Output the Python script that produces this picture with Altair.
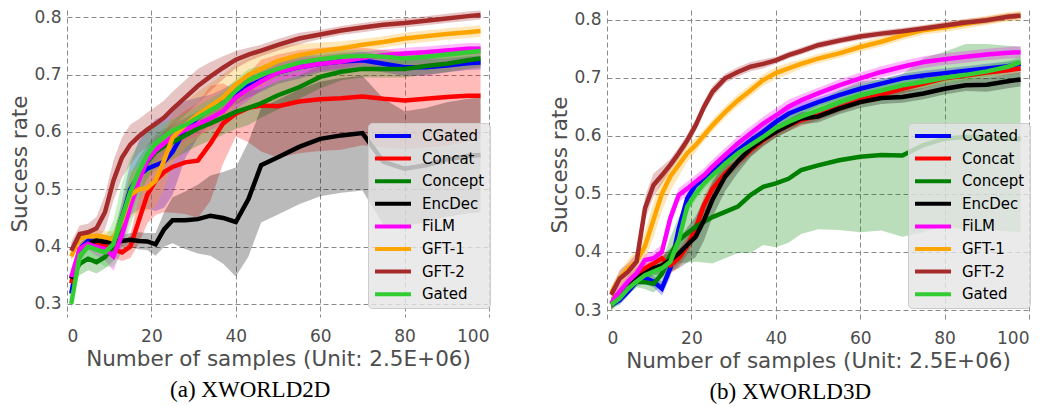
import altair as alt
import pandas as pd

# ---------------- data ----------------
names = ["CGated", "Concat", "Concept", "EncDec", "FiLM", "GFT-1", "GFT-2", "Gated"]
colors = ["#0000ff", "#ff0000", "#008000", "#000000", "#ff00ff", "#ffa500", "#a52a2a", "#32cd32"]

xs = [1, 3, 5, 7, 9, 11, 13, 15, 17, 19, 21, 23, 25, 28, 31, 34, 37, 40, 43, 46, 50, 55, 60, 65, 70, 75, 80, 85, 90, 95, 98]

# ---- (a) XWORLD2D: mean success rate ----
cgated_2d = [0.318, 0.396, 0.410, 0.408, 0.399, 0.402, 0.450, 0.500, 0.524, 0.536, 0.542, 0.548, 0.565, 0.604, 0.625, 0.640, 0.655, 0.668, 0.680, 0.690, 0.704, 0.713, 0.719, 0.723, 0.725, 0.719, 0.713, 0.713, 0.716, 0.720, 0.721]
concat_2d = [0.336, 0.395, 0.405, 0.408, 0.402, 0.396, 0.390, 0.400, 0.445, 0.490, 0.515, 0.530, 0.539, 0.547, 0.550, 0.580, 0.615, 0.632, 0.642, 0.646, 0.645, 0.653, 0.657, 0.659, 0.662, 0.658, 0.655, 0.658, 0.661, 0.663, 0.663]
concept_2d = [0.345, 0.370, 0.379, 0.373, 0.382, 0.400, 0.440, 0.495, 0.524, 0.547, 0.565, 0.575, 0.582, 0.594, 0.606, 0.615, 0.625, 0.635, 0.642, 0.650, 0.664, 0.678, 0.696, 0.705, 0.710, 0.710, 0.710, 0.715, 0.719, 0.725, 0.728]
encdec_2d = [0.344, 0.384, 0.405, 0.411, 0.408, 0.409, 0.410, 0.412, 0.410, 0.409, 0.404, 0.430, 0.446, 0.446, 0.448, 0.454, 0.450, 0.443, 0.483, 0.542, 0.556, 0.574, 0.588, 0.594, 0.598, 0.548, 0.536, 0.542, 0.552, 0.558, 0.560]
film_2d = [0.347, 0.396, 0.405, 0.399, 0.396, 0.383, 0.420, 0.470, 0.515, 0.550, 0.568, 0.580, 0.592, 0.604, 0.614, 0.624, 0.636, 0.660, 0.675, 0.688, 0.704, 0.713, 0.719, 0.723, 0.729, 0.734, 0.737, 0.739, 0.742, 0.745, 0.745]
gft1_2d = [0.383, 0.415, 0.418, 0.419, 0.417, 0.412, 0.445, 0.490, 0.500, 0.502, 0.515, 0.550, 0.590, 0.612, 0.630, 0.645, 0.660, 0.683, 0.700, 0.710, 0.724, 0.734, 0.741, 0.746, 0.752, 0.757, 0.763, 0.767, 0.771, 0.774, 0.776]
gft2_2d = [0.393, 0.422, 0.425, 0.432, 0.460, 0.515, 0.555, 0.578, 0.592, 0.604, 0.614, 0.625, 0.640, 0.660, 0.680, 0.697, 0.712, 0.726, 0.735, 0.742, 0.752, 0.763, 0.770, 0.777, 0.782, 0.787, 0.790, 0.794, 0.798, 0.802, 0.804]
gated_2d = [0.300, 0.384, 0.400, 0.395, 0.390, 0.405, 0.450, 0.495, 0.530, 0.560, 0.580, 0.592, 0.602, 0.612, 0.625, 0.638, 0.650, 0.672, 0.690, 0.700, 0.710, 0.721, 0.727, 0.731, 0.733, 0.731, 0.728, 0.731, 0.735, 0.739, 0.741]

# ---- (a) XWORLD2D: half-width of the shaded band ----
cgated_2d_sd = [0.01, 0.01, 0.01, 0.01, 0.01, 0.015, 0.03, 0.045, 0.06, 0.07, 0.08, 0.08, 0.075, 0.05, 0.035, 0.025, 0.02, 0.02, 0.02, 0.02, 0.02, 0.02, 0.015, 0.015, 0.015, 0.015, 0.015, 0.015, 0.012, 0.012, 0.012]
concat_2d_sd = [0.01, 0.01, 0.01, 0.01, 0.012, 0.015, 0.015, 0.02, 0.04, 0.05, 0.06, 0.07, 0.08, 0.09, 0.1, 0.1, 0.07, 0.04, 0.06, 0.08, 0.09, 0.09, 0.09, 0.09, 0.085, 0.085, 0.085, 0.085, 0.085, 0.08, 0.075]
concept_2d_sd = [0.015, 0.02, 0.02, 0.02, 0.02, 0.025, 0.03, 0.03, 0.03, 0.03, 0.03, 0.03, 0.03, 0.03, 0.03, 0.03, 0.03, 0.03, 0.03, 0.025, 0.025, 0.02, 0.02, 0.015, 0.015, 0.015, 0.015, 0.015, 0.015, 0.015, 0.015]
encdec_2d_sd = [0.01, 0.01, 0.01, 0.01, 0.01, 0.01, 0.01, 0.012, 0.015, 0.015, 0.02, 0.03, 0.04, 0.05, 0.06, 0.07, 0.08, 0.095, 0.1, 0.1, 0.1, 0.1, 0.1, 0.1, 0.1, 0.11, 0.1, 0.1, 0.1, 0.1, 0.1]
film_2d_sd = [0.01, 0.01, 0.01, 0.015, 0.02, 0.025, 0.025, 0.02, 0.02, 0.02, 0.02, 0.02, 0.02, 0.02, 0.02, 0.02, 0.02, 0.02, 0.02, 0.015, 0.015, 0.015, 0.012, 0.012, 0.01, 0.01, 0.01, 0.01, 0.01, 0.01, 0.01]
gft1_2d_sd = [0.01, 0.01, 0.01, 0.01, 0.01, 0.015, 0.03, 0.04, 0.04, 0.04, 0.045, 0.05, 0.045, 0.04, 0.04, 0.04, 0.04, 0.035, 0.03, 0.03, 0.025, 0.02, 0.015, 0.012, 0.01, 0.01, 0.01, 0.01, 0.01, 0.01, 0.01]
gft2_2d_sd = [0.015, 0.015, 0.015, 0.02, 0.03, 0.035, 0.035, 0.035, 0.03, 0.03, 0.03, 0.03, 0.03, 0.03, 0.03, 0.025, 0.02, 0.015, 0.012, 0.01, 0.01, 0.01, 0.008, 0.008, 0.008, 0.008, 0.008, 0.008, 0.008, 0.008, 0.008]
gated_2d_sd = [0.01, 0.02, 0.02, 0.02, 0.025, 0.04, 0.06, 0.06, 0.05, 0.04, 0.03, 0.025, 0.02, 0.02, 0.02, 0.02, 0.02, 0.02, 0.02, 0.015, 0.015, 0.015, 0.012, 0.012, 0.01, 0.01, 0.01, 0.01, 0.01, 0.01, 0.01]

# ---- (b) XWORLD3D: mean success rate ----
cgated_3d = [0.309, 0.317, 0.332, 0.349, 0.355, 0.349, 0.337, 0.372, 0.440, 0.492, 0.515, 0.527, 0.541, 0.558, 0.575, 0.592, 0.607, 0.624, 0.638, 0.647, 0.658, 0.670, 0.681, 0.690, 0.699, 0.704, 0.708, 0.712, 0.716, 0.720, 0.724]
concat_3d = [0.311, 0.326, 0.343, 0.355, 0.372, 0.380, 0.389, 0.377, 0.389, 0.410, 0.440, 0.481, 0.509, 0.535, 0.555, 0.575, 0.592, 0.607, 0.618, 0.627, 0.635, 0.648, 0.661, 0.671, 0.681, 0.690, 0.699, 0.704, 0.709, 0.713, 0.716]
concept_3d = [0.309, 0.323, 0.337, 0.349, 0.348, 0.345, 0.362, 0.395, 0.420, 0.432, 0.443, 0.452, 0.460, 0.469, 0.478, 0.498, 0.512, 0.518, 0.526, 0.541, 0.549, 0.558, 0.564, 0.567, 0.566, 0.584, 0.595, 0.598, 0.598, 0.595, 0.594]
encdec_3d = [0.311, 0.326, 0.343, 0.355, 0.363, 0.372, 0.377, 0.386, 0.397, 0.412, 0.426, 0.455, 0.490, 0.530, 0.556, 0.578, 0.594, 0.607, 0.618, 0.630, 0.633, 0.647, 0.658, 0.665, 0.667, 0.673, 0.681, 0.687, 0.688, 0.694, 0.697]
film_3d = [0.311, 0.332, 0.349, 0.363, 0.386, 0.389, 0.400, 0.458, 0.498, 0.509, 0.521, 0.532, 0.547, 0.567, 0.587, 0.604, 0.621, 0.635, 0.650, 0.661, 0.673, 0.687, 0.699, 0.710, 0.719, 0.727, 0.732, 0.736, 0.740, 0.743, 0.744]
gft1_3d = [0.330, 0.354, 0.372, 0.383, 0.410, 0.455, 0.500, 0.530, 0.550, 0.570, 0.584, 0.601, 0.618, 0.641, 0.661, 0.678, 0.696, 0.708, 0.716, 0.724, 0.733, 0.742, 0.753, 0.762, 0.773, 0.782, 0.787, 0.793, 0.799, 0.805, 0.807]
gft2_3d = [0.326, 0.354, 0.366, 0.383, 0.475, 0.515, 0.532, 0.550, 0.570, 0.592, 0.618, 0.650, 0.676, 0.699, 0.710, 0.719, 0.724, 0.730, 0.739, 0.746, 0.756, 0.764, 0.771, 0.776, 0.780, 0.785, 0.790, 0.795, 0.799, 0.805, 0.807]
gated_3d = [0.309, 0.320, 0.337, 0.349, 0.360, 0.366, 0.372, 0.383, 0.420, 0.478, 0.500, 0.518, 0.532, 0.552, 0.570, 0.584, 0.598, 0.613, 0.624, 0.633, 0.644, 0.658, 0.670, 0.678, 0.687, 0.693, 0.700, 0.705, 0.711, 0.719, 0.727]

# ---- (b) XWORLD3D: half-width of the shaded band ----
cgated_3d_sd = [0.005, 0.008, 0.008, 0.008, 0.01, 0.01, 0.012, 0.015, 0.012, 0.01, 0.01, 0.01, 0.01, 0.01, 0.01, 0.01, 0.01, 0.01, 0.01, 0.01, 0.008, 0.008, 0.008, 0.008, 0.008, 0.008, 0.008, 0.008, 0.008, 0.008, 0.008]
concat_3d_sd = [0.01, 0.01, 0.01, 0.01, 0.01, 0.01, 0.012, 0.015, 0.015, 0.015, 0.015, 0.015, 0.015, 0.012, 0.01, 0.01, 0.01, 0.01, 0.01, 0.01, 0.008, 0.008, 0.008, 0.008, 0.008, 0.008, 0.008, 0.008, 0.008, 0.008, 0.008]
concept_3d_sd = [0.01, 0.01, 0.01, 0.01, 0.012, 0.015, 0.02, 0.03, 0.04, 0.05, 0.06, 0.07, 0.08, 0.08, 0.08, 0.1, 0.1, 0.11, 0.11, 0.11, 0.11, 0.12, 0.13, 0.13, 0.14, 0.15, 0.15, 0.16, 0.16, 0.16, 0.16]
encdec_3d_sd = [0.01, 0.01, 0.01, 0.01, 0.01, 0.012, 0.015, 0.02, 0.025, 0.03, 0.035, 0.035, 0.03, 0.025, 0.02, 0.015, 0.012, 0.01, 0.01, 0.01, 0.01, 0.01, 0.01, 0.01, 0.01, 0.01, 0.01, 0.01, 0.012, 0.012, 0.012]
film_3d_sd = [0.008, 0.01, 0.01, 0.01, 0.01, 0.012, 0.012, 0.012, 0.012, 0.012, 0.012, 0.012, 0.012, 0.012, 0.012, 0.012, 0.012, 0.012, 0.012, 0.01, 0.01, 0.01, 0.01, 0.01, 0.01, 0.01, 0.01, 0.01, 0.01, 0.01, 0.01]
gft1_3d_sd = [0.01, 0.012, 0.015, 0.02, 0.025, 0.03, 0.03, 0.025, 0.02, 0.015, 0.012, 0.01, 0.01, 0.01, 0.01, 0.01, 0.01, 0.01, 0.01, 0.008, 0.008, 0.008, 0.008, 0.008, 0.008, 0.008, 0.008, 0.008, 0.008, 0.008, 0.008]
gft2_3d_sd = [0.012, 0.015, 0.015, 0.015, 0.02, 0.02, 0.015, 0.01, 0.01, 0.01, 0.01, 0.01, 0.01, 0.008, 0.008, 0.008, 0.008, 0.006, 0.006, 0.006, 0.006, 0.006, 0.006, 0.006, 0.006, 0.006, 0.006, 0.006, 0.006, 0.006, 0.006]
gated_3d_sd = [0.008, 0.01, 0.01, 0.01, 0.01, 0.01, 0.012, 0.015, 0.015, 0.012, 0.01, 0.01, 0.01, 0.01, 0.01, 0.01, 0.01, 0.01, 0.01, 0.01, 0.01, 0.01, 0.01, 0.01, 0.01, 0.01, 0.01, 0.01, 0.01, 0.01, 0.01]

x_ticks = [0, 20, 40, 60, 80, 100]
y_ticks = [0.3, 0.4, 0.5, 0.6, 0.7, 0.8]

means_2d = [cgated_2d, concat_2d, concept_2d, encdec_2d, film_2d, gft1_2d, gft2_2d, gated_2d]
sds_2d = [cgated_2d_sd, concat_2d_sd, concept_2d_sd, encdec_2d_sd, film_2d_sd, gft1_2d_sd, gft2_2d_sd, gated_2d_sd]
means_3d = [cgated_3d, concat_3d, concept_3d, encdec_3d, film_3d, gft1_3d, gft2_3d, gated_3d]
sds_3d = [cgated_3d_sd, concat_3d_sd, concept_3d_sd, encdec_3d_sd, film_3d_sd, gft1_3d_sd, gft2_3d_sd, gated_3d_sd]


def build(means, sds):
    rows = []
    for i, (name, m, s) in enumerate(zip(names, means, sds)):
        for x, v, d in zip(xs, m, s):
            rows.append({"x": x, "method": name, "order": i, "mean": v, "lo": v - d, "hi": v + d})
    return pd.DataFrame(rows)


FONT = "DejaVu Sans"
GRAY = "#4d4d4d"


def panel(df, ydom, height, caption):
    xenc = alt.X("x:Q", scale=alt.Scale(domain=[0, 100], nice=False, zero=False),
                 axis=alt.Axis(values=x_ticks, title="Number of samples (Unit: 2.5E+06)",
                               labelPadding=11, titlePadding=4))
    yscale = alt.Scale(domain=ydom, nice=False, zero=False)
    yaxis = alt.Axis(values=y_ticks, format=".1f", title="Success rate",
                     labelPadding=6, titlePadding=2)
    cenc = alt.Color(
        "method:N", scale=alt.Scale(domain=names, range=colors), sort=names,
        legend=alt.Legend(orient="none", legendX=301, legendY=113, title=None,
                          symbolType="M-3,0H3", symbolSize=144, symbolStrokeWidth=4,
                          symbolOffset=12, symbolOpacity=1, labelFontSize=15,
                          labelColor="black", labelFont=FONT, labelAlign="left",
                          fillColor="rgba(229,229,229,0.8)",
                          strokeColor="#cccccc", cornerRadius=4, padding=5,
                          rowPadding=6.6, labelOffset=21))
    band = alt.Chart(df).mark_area(opacity=0.27, clip=True).encode(
        x=xenc,
        y=alt.Y("lo:Q", scale=yscale, axis=yaxis),
        y2="hi:Q",
        color=cenc,
        order="order:Q",
    )
    line = alt.Chart(df).mark_line(strokeWidth=4.5, clip=True).encode(
        x=xenc,
        y=alt.Y("mean:Q", scale=yscale, axis=yaxis),
        color=cenc,
        order="order:Q",
    )
    return alt.layer(band, line).properties(
        width=422, height=height,
        title=alt.TitleParams(caption, orient="bottom", font="Liberation Serif", fontSize=23,
                              fontWeight="normal", color="black", offset=9, anchor="middle",
                              frame="bounds"),
    )


left = panel(build(means_2d, sds_2d), [0.2773, 0.8127], 307, "(a) XWORLD2D")
right = panel(build(means_3d, sds_3d), [0.2845, 0.8167], 309, "(b) XWORLD3D")

chart = alt.hconcat(left, right, spacing=118, bounds="flush").resolve_scale(
    color="independent", x="independent", y="independent"
).properties(
    padding={"left": 1, "top": 0, "right": 0, "bottom": 0}
).configure_view(
    strokeWidth=0
).configure_axis(
    labelFont=FONT, titleFont=FONT, labelFontSize=17, titleFontSize=21.5,
    labelColor=GRAY, titleColor=GRAY, titleFontWeight="normal",
    ticks=False, tickSize=0, domain=False,
    grid=True, gridColor="#8a8a8a", gridDash=[5, 3], gridWidth=1, gridOpacity=1,
)

chart.save("out.html", embed_options={"renderer": "svg", "actions": False})
